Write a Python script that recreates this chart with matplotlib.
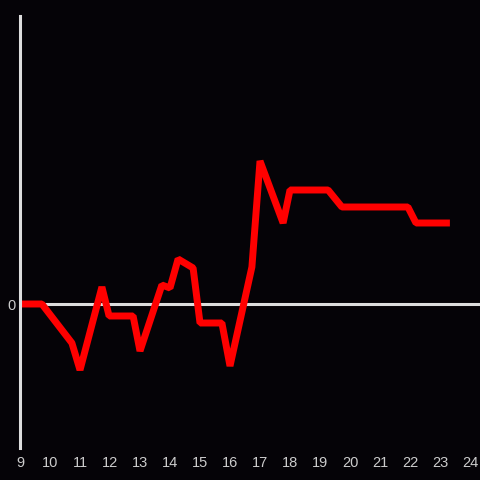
import numpy as np
import matplotlib.pyplot as plt

# hours of day (decimal) and value
hours = [9.0, 9.73, 10.73, 11.0, 11.73, 11.97, 12.77, 13.0, 13.73, 14.0, 14.27,
         14.77, 15.0, 15.73, 16.0, 16.73, 17.0, 17.77, 18.0, 19.27, 19.73, 21.93,
         22.2, 23.33]
values = [0.0, 0.0, -0.39, -0.66, 0.17, -0.12, -0.12, -0.47, 0.19, 0.16, 0.45,
          0.36, -0.19, -0.19, -0.62, 0.37, 1.43, 0.81, 1.14, 1.14, 0.97, 0.97,
          0.81, 0.81]
xticks = list(range(9, 25))

bg = '#050307'
fg = '#dddddd'

fig = plt.figure(figsize=(4.8, 4.8), dpi=100, facecolor=bg)
ax = fig.add_axes([20 / 480, 32 / 480, 460 / 480, 432 / 480])
ax.set_facecolor(bg)

ax.axhline(0, color=fg, lw=2.2, zorder=1)
ax.plot(hours, values, color='#ff0000', lw=5, solid_joinstyle='bevel',
        solid_capstyle='butt', zorder=2)

ax.set_xlim(9, 24 + 1 / 3)
ax.set_ylim(-1.44, 2.88)
ax.set_xticks(xticks)
ax.set_yticks([0])
ax.tick_params(length=0, colors='#cccccc', labelsize=10.5, pad=6)
ax.tick_params(axis='y', pad=3)
for lab in ax.get_xticklabels() + ax.get_yticklabels():
    lab.set_family('Liberation Sans')

for s in ['top', 'right', 'bottom']:
    ax.spines[s].set_visible(False)
ax.spines['left'].set_color(fg)
ax.spines['left'].set_linewidth(2.2)

fig.savefig('out.png', dpi=100, facecolor=bg)
